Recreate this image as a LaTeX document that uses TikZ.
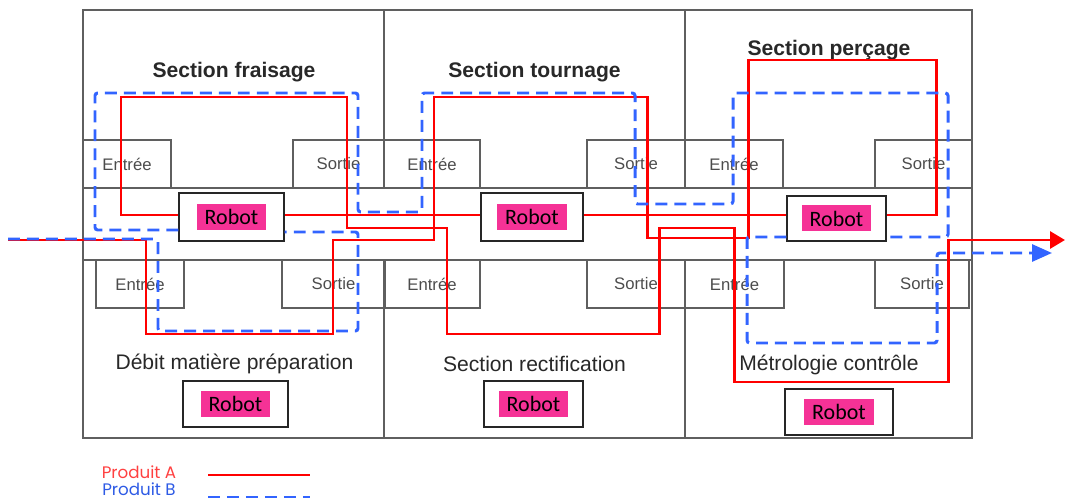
\documentclass[tikz,border=0pt]{standalone}
\usepackage{fontspec}
\setmainfont{Liberation Sans}
\newfontfamily\robotfont{Carlito}
\newfontfamily\legendfont{Poppins}
\usetikzlibrary{arrows.meta}

\definecolor{framegray}{RGB}{95,95,95}
\definecolor{textgray}{RGB}{40,40,40}
\definecolor{robotpink}{RGB}{245,50,150}
\definecolor{routeAred}{RGB}{255,0,0}
\definecolor{routeBblue}{RGB}{50,100,255}

\begin{document}
\begin{tikzpicture}[
  x=0.2mm, y=-0.2mm,
  every node/.style={text=textgray},
  wall/.style={draw=framegray, line width=0.7pt},
  station/.style={draw=framegray, line width=0.7pt, minimum height=0.96cm,
    inner sep=0pt, font=\fontsize{9.5}{11}\selectfont, text=black!70},
  title/.style={font=\bfseries\fontsize{12}{14}\selectfont},
  subtitle/.style={font=\fontsize{12}{14}\selectfont},
  robotbox/.style={draw=black!85, fill=white, line width=0.8pt,
    minimum height=0.96cm, inner sep=0pt},
  robottag/.style={fill=robotpink, text=black, font=\robotfont\fontsize{12.5}{14}\selectfont,
    minimum height=0.52cm, inner xsep=4.5pt, inner ysep=0pt},
  routeA/.style={draw=routeAred, line width=1.7pt},
  routeB/.style={draw=routeBblue, line width=1.7pt, dash pattern=on 6.8pt off 4pt,
    rounded corners=1.5pt}
]
  \useasboundingbox (0,0) rectangle (1065,499);

  % Outer frame, section walls and corridor
  \draw[wall] (83,10) rectangle (972,438);
  \draw[wall] (384,10) -- (384,188) (685,10) -- (685,188);
  \draw[wall] (384,260) -- (384,438) (685,260) -- (685,438);
  \draw[wall] (83,188) -- (972,188) (83,260) -- (972,260);

  % Upper stations
  \node[station, minimum width=1.76cm] (e1t) at (127,164) {Entrée};
  \node[station, minimum width=1.82cm] (s1t) at (338.5,164) {Sortie};
  \node[station, minimum width=1.92cm] (e2t) at (432,164) {Entrée};
  \node[station, minimum width=1.96cm] (s2t) at (636,164) {Sortie};
  \node[station, minimum width=1.96cm] (e3t) at (734,164) {Entrée};
  \node[station, minimum width=1.94cm] (s3t) at (923.5,164) {Sortie};

  % Lower stations
  \node[station, minimum width=1.76cm] (e1b) at (140,284) {Entrée};
  \node[station, minimum width=2.06cm] (s1b) at (333.5,284) {Sortie};
  \node[station, minimum width=1.92cm] (e2b) at (432,284) {Entrée};
  \node[station, minimum width=1.96cm] (s2b) at (636,284) {Sortie};
  \node[station, minimum width=1.98cm] (e3b) at (734.5,284) {Entrée};
  \node[station, minimum width=1.88cm] (s3b) at (922,284) {Sortie};

  % Section names
  \node[title] (tfrai) at (234,72) {Section fraisage};
  \node[title] (ttour) at (534.5,72) {Section tournage};
  \node[title] (tperc) at (829,50) {Section perçage};
  \node[subtitle] (tdebit) at (234.5,364) {Débit matière préparation};
  \node[subtitle] (trect) at (534.5,364) {Section rectification};
  \node[subtitle] (tmetro) at (829,365) {Métrologie contrôle};

  % Robots
  \node[robotbox, minimum width=2.1cm] (r1) at (231.5,217) {};
  \node[robotbox, minimum width=2.04cm] (r2) at (532,217) {};
  \node[robotbox, minimum width=1.98cm, minimum height=0.9cm] (r3) at (836.5,218.5) {};
  \node[robotbox, minimum width=2.1cm, minimum height=0.92cm] (r4) at (235.5,404) {};
  \node[robotbox, minimum width=1.98cm, minimum height=0.92cm] (r5) at (533.5,404) {};
  \node[robotbox, minimum width=2.16cm, minimum height=0.92cm] (r6) at (839,412) {};
  \foreach \r in {r1,r2,r3,r4,r5,r6}
    \node[robottag] (\r tag) at (\r) {Robot};

  % Produit A
  \draw[routeA] (8,240) -| (146,334) -| (333,240) -| (434,97) -| (647,238)
    -| (748,60) -| (936,215) -- (r3.east |- 0,215);
  \draw[routeA] (r3.west |- 0,215) -- (r2.east |- 0,215);
  \draw[routeA] (r2.west |- 0,215) -- (r1.east |- 0,215);
  \draw[routeA, -{Triangle[length=0.3cm, width=0.34cm]}] (r1.west |- 0,215)
    -- (121,215) |- (347,97) |- (447,228) |- (659,334) |- (734,228)
    |- (948,382) |- (1065,240);

  % Produit B
  \draw[routeB] (8,239) -| (158,331) -| (358,232) -- (r1.east |- 0,232);
  \draw[routeB] (r1.west |- 0,230) -| (95,93) -| (358,212) -| (422,93)
    -| (635,204) -| (733,93) -| (948,237) -- (r3.east |- 0,237);
  \draw[routeB, -{Triangle[length=0.4cm, width=0.34cm]}] (r3.west |- 0,237)
    -| (747,343) -| (937,253) -- (1052,253);

  % Legend
  \node[font=\legendfont\fontsize{9.5}{11}\selectfont, text=routeAred!75] (lega) at (139,472) {Produit A};
  \node[font=\legendfont\fontsize{9.5}{11}\selectfont, text=routeBblue!90!black] (legb) at (139,489) {Produit B};
  \coordinate (la1) at (208,475);
  \coordinate (la2) at (310,475);
  \coordinate (lb1) at (208,497);
  \coordinate (lb2) at (310,497);
  \draw[routeA] (la1) -- (la2);
  \draw[routeB] (lb1) -- (lb2);
\end{tikzpicture}
\end{document}
